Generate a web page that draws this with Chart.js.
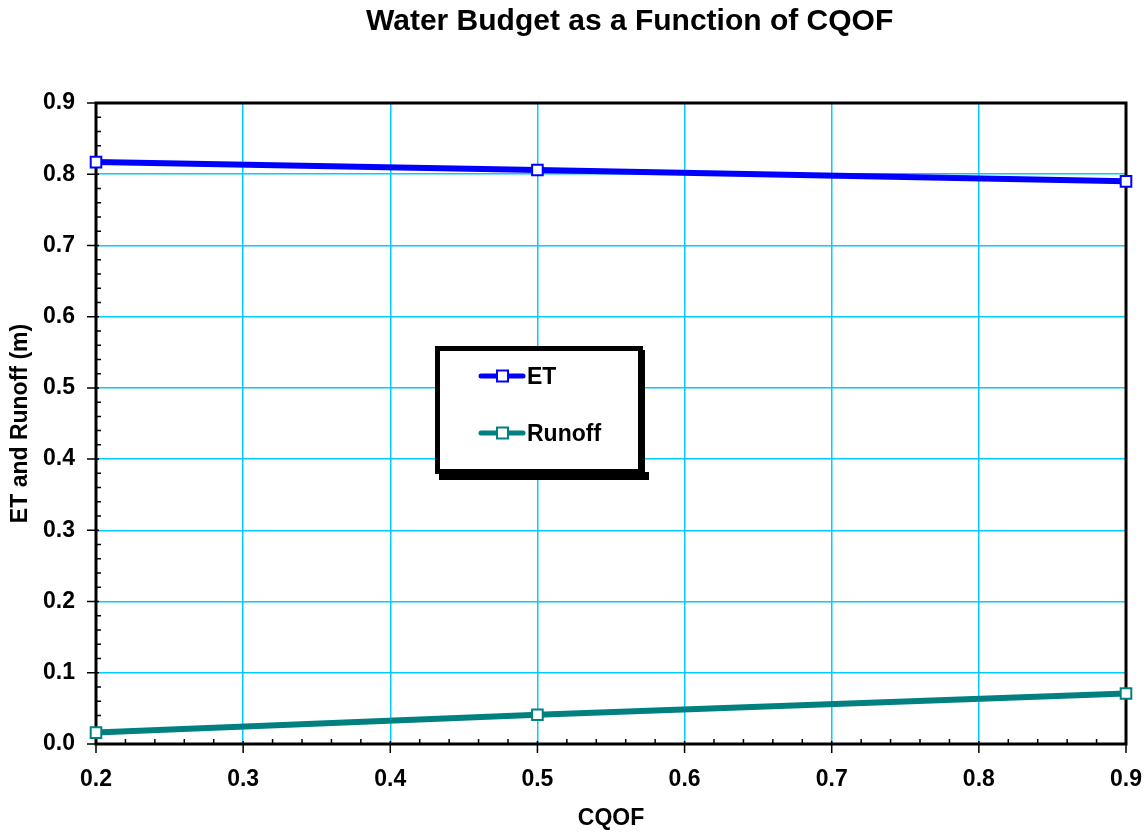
<!DOCTYPE html>
<html>
<head>
<meta charset="utf-8">
<title>Water Budget as a Function of CQOF</title>
<script src="https://cdn.jsdelivr.net/npm/chart.js@4.4.1/dist/chart.umd.min.js"></script>
<style>
  html, body { margin: 0; padding: 0; background: #ffffff; }
  #wrap { width: 1146px; height: 832px; }
</style>
</head>
<body>
<div id="wrap"><canvas id="c" width="1146" height="832"></canvas></div>
<script>
// CQOF values and the resulting water budget terms (m)
const cqof   = [0.2, 0.5, 0.9];
const et     = [0.817, 0.806, 0.790];
const runoff = [0.016, 0.041, 0.071];

const seriesNames = ['ET', 'Runoff'];
const xTickValues = [0.2, 0.3, 0.4, 0.5, 0.6, 0.7, 0.8, 0.9];
const xTickLabels = ['0.2', '0.3', '0.4', '0.5', '0.6', '0.7', '0.8', '0.9'];
const yTickValues = [0.0, 0.1, 0.2, 0.3, 0.4, 0.5, 0.6, 0.7, 0.8, 0.9];
const yTickLabels = ['0.0', '0.1', '0.2', '0.3', '0.4', '0.5', '0.6', '0.7', '0.8', '0.9'];

const FONT = '"Liberation Sans", Arial, Helvetica, sans-serif';
const GRID = '#00ccff';

const toPoints = (xs, ys) => xs.map((x, i) => ({ x: x, y: ys[i] }));

// Plot frame plus inward minor ticks and crossing major ticks
const framePlugin = {
  id: 'frameTicks',
  beforeDatasetsDraw(chart) {
    const { ctx, chartArea: a, scales: { x, y } } = chart;
    ctx.save();
    ctx.strokeStyle = '#000';
    ctx.lineWidth = 3;
    ctx.strokeRect(a.left, a.top, a.right - a.left, a.bottom - a.top);

    ctx.lineWidth = 1.5;
    ctx.beginPath();
    // minor ticks every 0.02
    for (let i = 0; i <= 45; i++) {
      if (i % 5 === 0) continue;
      const py = y.getPixelForValue(i * 0.02);
      ctx.moveTo(a.left, py); ctx.lineTo(a.left + 5, py);
    }
    for (let i = 10; i <= 45; i++) {
      if (i % 5 === 0) continue;
      const px = x.getPixelForValue(i * 0.02);
      ctx.moveTo(px, a.bottom); ctx.lineTo(px, a.bottom - 5);
    }
    ctx.stroke();

    ctx.beginPath();
    yTickValues.forEach(v => {
      const py = y.getPixelForValue(v);
      ctx.moveTo(a.left - 9, py); ctx.lineTo(a.left + 3, py);
    });
    xTickValues.forEach(v => {
      const px = x.getPixelForValue(v);
      ctx.moveTo(px, a.bottom - 3); ctx.lineTo(px, a.bottom + 9);
    });
    ctx.stroke();
    ctx.restore();
  },
  afterDraw(chart) {
    const { ctx } = chart;
    ctx.save();

    // chart title
    ctx.fillStyle = '#000';
    ctx.font = 'bold 30px ' + FONT;
    ctx.textAlign = 'left';
    ctx.textBaseline = 'alphabetic';
    ctx.fillText('Water Budget as a Function of CQOF', 366, 30);

    // legend box with drop shadow
    const bx = 435, by = 346, bw = 208, bh = 128;
    ctx.fillStyle = '#fff';
    ctx.fillRect(bx, by, bw, bh);
    ctx.fillStyle = '#000';
    ctx.fillRect(bx + 4, by + bh - 2, bw + 2, 8);
    ctx.fillRect(bx + bw - 2, by + 4, 4, bh + 2);
    ctx.strokeStyle = '#000';
    ctx.lineWidth = 5;
    ctx.strokeRect(bx + 2.5, by + 2.5, bw - 5, bh - 5);

    const rows = [376, 433];
    chart.data.datasets.forEach((ds, i) => {
      const ly = rows[i];
      ctx.strokeStyle = ds.borderColor;
      ctx.lineWidth = 5;
      ctx.lineCap = 'round';
      ctx.beginPath();
      ctx.moveTo(481, ly); ctx.lineTo(523, ly);
      ctx.stroke();
      ctx.fillStyle = '#fff';
      ctx.lineWidth = 2;
      ctx.lineCap = 'butt';
      ctx.fillRect(497, ly - 5.5, 11, 11);
      ctx.strokeRect(497, ly - 5.5, 11, 11);
      ctx.fillStyle = '#000';
      ctx.font = 'bold 23px ' + FONT;
      ctx.textAlign = 'left';
      ctx.textBaseline = 'alphabetic';
      ctx.fillText(ds.label, 527, ly + 8);
    });
    ctx.restore();
  }
};

const lineDataset = (label, ys, color) => ({
  label: label,
  data: toPoints(cqof, ys),
  borderColor: color,
  backgroundColor: color,
  borderWidth: 6,
  tension: 0,
  pointStyle: 'rect',
  pointRadius: 7.5,
  pointBorderWidth: 2,
  pointBorderColor: color,
  pointBackgroundColor: '#ffffff',
  clip: false
});

new Chart(document.getElementById('c'), {
  type: 'line',
  data: {
    datasets: [
      lineDataset(seriesNames[0], et, '#0000ff'),
      lineDataset(seriesNames[1], runoff, '#008080')
    ]
  },
  options: {
    responsive: false,
    animation: false,
    devicePixelRatio: 1,
    layout: { padding: { top: 103, right: 20, left: 0, bottom: 0 } },
    plugins: {
      legend: { display: false },
      tooltip: { enabled: false },
      title: { display: false }
    },
    scales: {
      x: {
        type: 'linear',
        min: 0.2,
        max: 0.9,
        afterBuildTicks(s) { s.ticks = xTickValues.map(v => ({ value: v })); },
        afterFit(s) { s.height = 88; s.paddingLeft = 0; s.paddingRight = 0; },
        grid: { color: GRID, lineWidth: 1.5, drawTicks: false },
        border: { display: false },
        ticks: {
          color: '#000',
          padding: 22,
          maxRotation: 0,
          autoSkip: false,
          font: { family: FONT, size: 23, weight: 'bold' },
          callback: (v, i) => xTickLabels[i]
        },
        title: {
          display: true,
          text: 'CQOF',
          color: '#000',
          font: { family: FONT, size: 23, weight: 'bold' },
          padding: { top: 0, bottom: 0 }
        }
      },
      y: {
        type: 'linear',
        min: 0,
        max: 0.9,
        afterBuildTicks(s) { s.ticks = yTickValues.map(v => ({ value: v })); },
        afterFit(s) { s.width = 96; s.paddingTop = 0; s.paddingBottom = 0; },
        grid: { color: GRID, lineWidth: 1.5, drawTicks: false },
        border: { display: false },
        ticks: {
          color: '#000',
          padding: 21,
          autoSkip: false,
          font: { family: FONT, size: 23, weight: 'bold' },
          callback: (v, i) => yTickLabels[i]
        },
        title: {
          display: true,
          text: 'ET and Runoff (m)',
          color: '#000',
          font: { family: FONT, size: 23, weight: 'bold' },
          padding: { top: 7, bottom: 0 }
        }
      }
    }
  },
  plugins: [framePlugin]
});
</script>
</body>
</html>
